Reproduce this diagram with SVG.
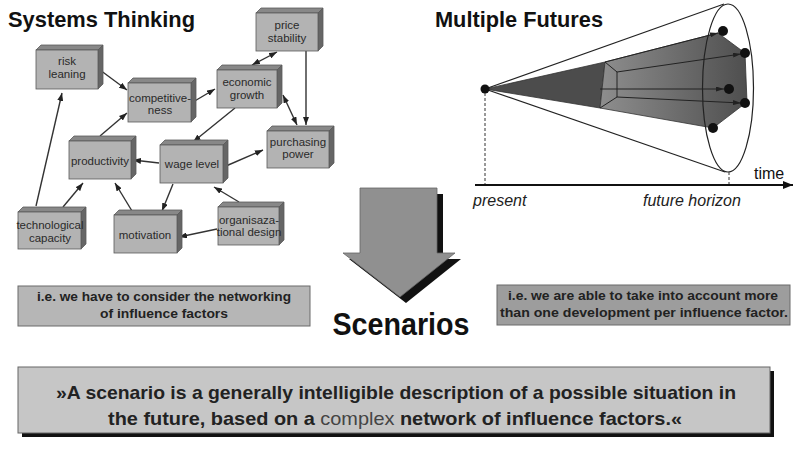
<svg xmlns="http://www.w3.org/2000/svg" width="793" height="451" viewBox="0 0 793 451">
<defs>
<style>
.title{font-family:"Liberation Sans",Arial,sans-serif;font-weight:bold;font-size:22px;fill:#111}
.nt{font-family:"Liberation Sans",Arial,sans-serif;font-size:11.5px;fill:#2a2a2a;text-anchor:middle}
.front{fill:#b3b3b3;stroke:#5a5a5a;stroke-width:0.8}
.top{fill:#888888;stroke:#5a5a5a;stroke-width:0.8}
.side{fill:#666666;stroke:#5a5a5a;stroke-width:0.8}
.con{stroke:#333;stroke-width:1.4;fill:none}
.bt{font-family:"Liberation Sans",Arial,sans-serif;font-weight:bold;fill:#222;text-anchor:middle}
.it{font-family:"Liberation Sans",Arial,sans-serif;font-style:italic;font-size:16px;fill:#222}
.fl{stroke:#222;stroke-width:1;fill:none}
</style>
<marker id="ah" markerWidth="8" markerHeight="6" refX="8" refY="3" orient="auto-start-reverse" markerUnits="userSpaceOnUse">
<path d="M0,0 L8,3 L0,6 z" fill="#222"/>
</marker>
<marker id="ah2" markerWidth="8" markerHeight="5" refX="8" refY="2.5" orient="auto" markerUnits="userSpaceOnUse">
<path d="M0,0 L8,2.5 L0,5 z" fill="#222"/>
</marker>
<marker id="ta" markerWidth="10" markerHeight="8" refX="10" refY="4" orient="auto" markerUnits="userSpaceOnUse">
<path d="M0,0 L10,4 L0,8 z" fill="#111"/>
</marker>
<linearGradient id="cg" x1="600" y1="0" x2="748" y2="0" gradientUnits="userSpaceOnUse">
<stop offset="0" stop-color="#8e8e8e"/>
<stop offset="1" stop-color="#4e4e4e"/>
</linearGradient>
</defs>
<rect x="0" y="0" width="793" height="451" fill="#ffffff"/>

<text class="title" x="8" y="27" textLength="187" lengthAdjust="spacingAndGlyphs">Systems Thinking</text>
<text class="title" x="435" y="27" textLength="168" lengthAdjust="spacingAndGlyphs">Multiple Futures</text>

<g id="connectors">
<line class="con" x1="100" y1="70" x2="127" y2="90" marker-end="url(#ah)"/>
<line class="con" x1="193" y1="102" x2="215" y2="89" marker-end="url(#ah)"/>
<line class="con" x1="277" y1="52" x2="252" y2="65" marker-start="url(#ah)" marker-end="url(#ah)"/>
<line class="con" x1="306" y1="51" x2="306" y2="125" marker-end="url(#ah)"/>
<line class="con" x1="283" y1="95" x2="297" y2="125" marker-start="url(#ah)" marker-end="url(#ah)"/>
<line class="con" x1="235" y1="108" x2="193" y2="142" marker-end="url(#ah)"/>
<line class="con" x1="226" y1="166" x2="263" y2="150" marker-end="url(#ah)"/>
<line class="con" x1="159" y1="163" x2="133" y2="160" marker-end="url(#ah)"/>
<line class="con" x1="100" y1="136" x2="127" y2="113" marker-end="url(#ah)"/>
<line class="con" x1="36" y1="206" x2="62" y2="93" marker-end="url(#ah)"/>
<line class="con" x1="63" y1="207" x2="83" y2="183" marker-end="url(#ah)"/>
<line class="con" x1="132" y1="211" x2="115" y2="183" marker-end="url(#ah)"/>
<line class="con" x1="173" y1="184" x2="162" y2="211" marker-end="url(#ah)"/>
<line class="con" x1="239" y1="202" x2="214" y2="187" marker-end="url(#ah)"/>
<line class="con" x1="217" y1="229" x2="179" y2="237" marker-end="url(#ah)"/>
</g>

<g id="risk-leaning">
<polygon class="top" points="36,50 41,45 103,45 98,50"/>
<polygon class="side" points="98,50 103,45 103,84 98,89"/>
<rect class="front" x="36" y="50" width="62" height="39"/>
<text class="nt" x="67" y="65">risk</text><text class="nt" x="67" y="78">leaning</text>
</g>
<g id="competitiveness">
<polygon class="top" points="128,83 133,78 196,78 191,83"/>
<polygon class="side" points="191,83 196,78 196,117 191,122"/>
<rect class="front" x="128" y="83" width="63" height="39"/>
<text class="nt" x="160" y="102">competitive-</text><text class="nt" x="160" y="114">ness</text>
</g>
<g id="economic-growth">
<polygon class="top" points="217,70 222,65 282,65 277,70"/>
<polygon class="side" points="277,70 282,65 282,103 277,108"/>
<rect class="front" x="217" y="70" width="60" height="38"/>
<text class="nt" x="247" y="86">economic</text><text class="nt" x="247" y="99">growth</text>
</g>
<g id="price-stability">
<polygon class="top" points="256,13 261,8 323,8 318,13"/>
<polygon class="side" points="318,13 323,8 323,46 318,51"/>
<rect class="front" x="256" y="13" width="62" height="38"/>
<text class="nt" x="287" y="29">price</text><text class="nt" x="287" y="42">stability</text>
</g>
<g id="purchasing-power">
<polygon class="top" points="267,131 272,126 334,126 329,131"/>
<polygon class="side" points="329,131 334,126 334,163 329,168"/>
<rect class="front" x="267" y="131" width="62" height="37"/>
<text class="nt" x="298" y="146">purchasing</text><text class="nt" x="298" y="158">power</text>
</g>
<g id="productivity">
<polygon class="top" points="69,141 74,136 136,136 131,141"/>
<polygon class="side" points="131,141 136,136 136,174 131,179"/>
<rect class="front" x="69" y="141" width="62" height="38"/>
<text class="nt" x="100" y="165">productivity</text>
</g>
<g id="wage-level">
<polygon class="top" points="160,145 165,140 228,140 223,145"/>
<polygon class="side" points="223,145 228,140 228,178 223,183"/>
<rect class="front" x="160" y="145" width="63" height="38"/>
<text class="nt" x="192" y="168">wage level</text>
</g>
<g id="technological-capacity">
<polygon class="top" points="18,212 23,207 86,207 81,212"/>
<polygon class="side" points="81,212 86,207 86,244 81,249"/>
<rect class="front" x="18" y="212" width="63" height="37"/>
<text class="nt" x="50" y="229">technological</text><text class="nt" x="50" y="242">capacity</text>
</g>
<g id="motivation">
<polygon class="top" points="114,215 119,210 182,210 177,215"/>
<polygon class="side" points="177,215 182,210 182,248 177,253"/>
<rect class="front" x="114" y="215" width="63" height="38"/>
<text class="nt" x="145" y="239">motivation</text>
</g>
<g id="organisazational-design">
<polygon class="top" points="218,207 223,202 284,202 279,207"/>
<polygon class="side" points="279,207 284,202 284,240 279,245"/>
<rect class="front" x="218" y="207" width="61" height="38"/>
<text class="nt" x="249" y="224">organisaza-</text><text class="nt" x="249" y="236">tional design</text>
</g>

<g id="multiple-futures">
<polygon points="485,89 605,62 600,108" fill="#4c4c4c" stroke="#333" stroke-width="0.8"/>
<polygon points="605,62 718,33 745,53 747,102 713,128 600,108" fill="url(#cg)" stroke="#333" stroke-width="0.8"/>
<polyline class="fl" points="605,62 617,72 617,97 600,108"/>
<line class="fl" x1="617" y1="72" x2="741" y2="54" marker-end="url(#ah2)"/>
<line class="fl" x1="600" y1="89" x2="724" y2="89" marker-end="url(#ah2)"/>
<line class="fl" x1="617" y1="97" x2="741" y2="103" marker-end="url(#ah2)"/>
<line class="fl" x1="605" y1="62" x2="718" y2="33" marker-end="url(#ah2)"/>
<line x1="485" y1="89" x2="724" y2="4" stroke="#222" stroke-width="1.1"/>
<line x1="485" y1="89" x2="725" y2="172" stroke="#222" stroke-width="1.1"/>
<ellipse cx="728" cy="88" rx="25.5" ry="84" fill="none" stroke="#222" stroke-width="1.2"/>
<circle cx="485" cy="89" r="4.5" fill="#111"/>
<circle cx="723" cy="31" r="5" fill="#111"/>
<circle cx="745" cy="53" r="5" fill="#111"/>
<circle cx="729" cy="89" r="5" fill="#111"/>
<circle cx="745" cy="103" r="5" fill="#111"/>
<circle cx="713" cy="128" r="5" fill="#111"/>
<line x1="485" y1="93" x2="485" y2="184" stroke="#333" stroke-width="1" stroke-dasharray="3,2"/>
<line x1="729" y1="172" x2="729" y2="184" stroke="#333" stroke-width="1" stroke-dasharray="3,2"/>
<line x1="475" y1="185" x2="793" y2="185" stroke="#111" stroke-width="2" marker-end="url(#ta)"/>
<text x="754" y="179" font-family="'Liberation Sans',Arial,sans-serif" font-size="16" fill="#111">time</text>
<text class="it" x="473" y="206">present</text>
<text class="it" x="643" y="206">future horizon</text>
</g>

<g id="scenarios-arrow">
<polygon points="366,194 443,194 443,259 461,259 406,303 349,259 366,259" fill="#111"/>
<polygon points="360,188 437,188 437,253 455,253 400,297 343,253 360,253" fill="#909090" stroke="#666" stroke-width="0.8"/>
<text x="401" y="335" font-family="'Liberation Sans',Arial,sans-serif" font-weight="bold" font-size="32" fill="#111" text-anchor="middle" textLength="137" lengthAdjust="spacingAndGlyphs">Scenarios</text>
</g>

<g id="networking-box">
<rect x="18" y="286" width="292" height="40" fill="#b6b6b6" stroke="#6a6a6a" stroke-width="1"/>
<text class="bt" x="164" y="301" font-size="13.5" textLength="254" lengthAdjust="spacingAndGlyphs">i.e. we have to consider the networking</text>
<text class="bt" x="164" y="318" font-size="13.5" textLength="128" lengthAdjust="spacingAndGlyphs">of influence factors</text>
</g>

<g id="development-box">
<rect x="497" y="285" width="293" height="40" fill="#9d9d9d" stroke="#6a6a6a" stroke-width="1"/>
<text class="bt" x="643" y="300" font-size="13.5" textLength="270" lengthAdjust="spacingAndGlyphs">i.e. we are able to take into account more</text>
<text class="bt" x="644" y="317" font-size="13.5" textLength="288" lengthAdjust="spacingAndGlyphs">than one development per influence factor.</text>
</g>

<g id="definition-box">
<rect x="22" y="371" width="752" height="66" fill="#111"/>
<rect x="18" y="367" width="752" height="66" fill="#c6c6c6" stroke="#666" stroke-width="1"/>
<text class="bt" x="396" y="399" font-size="18.5" textLength="680" lengthAdjust="spacingAndGlyphs">»A scenario is a generally intelligible description of a possible situation in</text>
<text class="bt" x="395" y="425" font-size="18.5" textLength="574" lengthAdjust="spacingAndGlyphs">the future, based on a <tspan font-weight="normal" fill="#444">complex</tspan> network of influence factors.«</text>
</g>
</svg>
